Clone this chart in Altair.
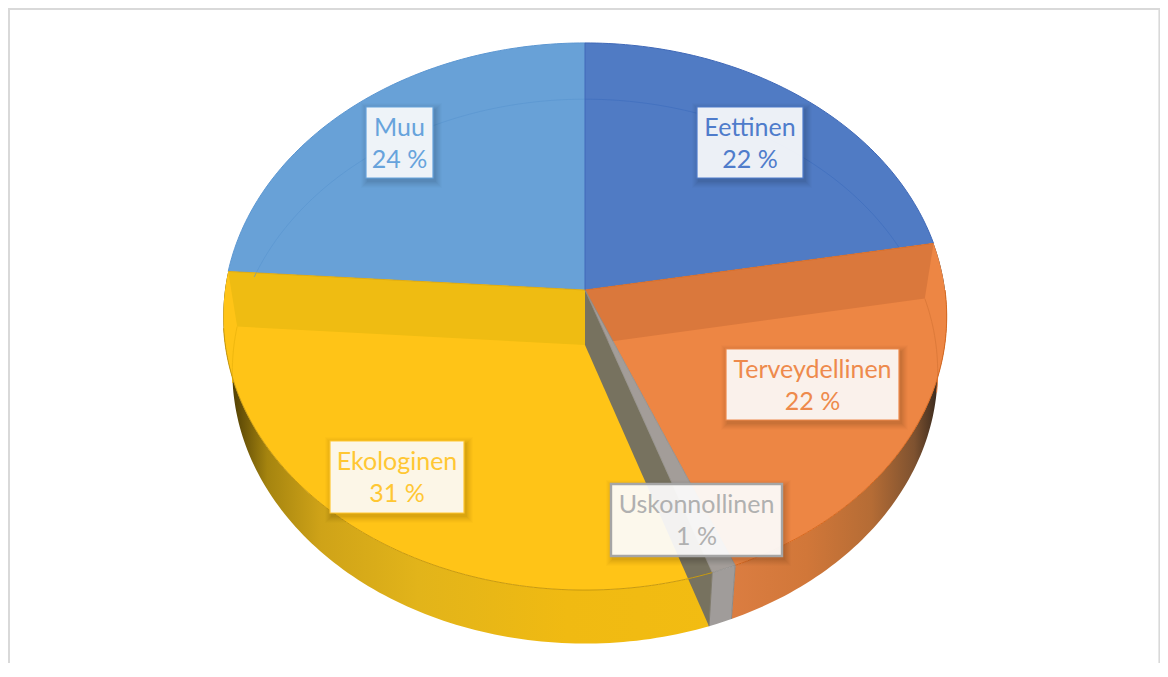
import math
import altair as alt

# ---- chart data ----
categories = ["Eettinen", "Terveydellinen", "Uskonnollinen", "Ekologinen", "Muu"]
shares = [22.2, 21.6, 1.0, 31.3, 23.9]
percent_labels = ["22 %", "22 %", "1 %", "31 %", "24 %"]
colors = ["#507BC4", "#ED8644", "#A39D99", "#FFC417", "#68A1D7"]
edge_colors = ["#4069B8", "#D9691F", "#8C8C8C", "#D9A50C", "#5C97D2"]
text_colors = ["#4F7CCB", "#EE8A4C", "#B0B0B0", "#FFC733", "#67A3DC"]

# ---- layout (page pixels) ----
W, H = 1152, 655
OX, OY = 8, 8
CX, CY, RX, RY, K = 585, 290, 360, 271, 0.0969
DROP, FX, FY = 55, 0.975, 0.995
boxes = [(697, 107, 803, 178), (726, 349, 899, 420), (611, 484, 782, 556),
         (330, 441, 464, 513), (366, 107, 433, 178)]

# slice boundaries derived from the shares
edges = [0.0]
for s in shares:
    edges.append(edges[-1] + s * 3.6)


def top(t):
    a = math.radians(t)
    d = 1 + K * math.cos(a)
    return CX + RX * math.sin(a) / d, CY - RY * math.cos(a) / d


def bot(t):
    a = math.radians(t)
    d = 1 + K * math.cos(a)
    return CX + FX * RX * math.sin(a) / d, CY + DROP - FY * RY * math.cos(a) / d


def sweep(fn, a, b):
    n = max(2, int(abs(b - a)) + 1)
    return [fn(a + (b - a) * i / (n - 1)) for i in range(n)]


PROJ = dict(type="identity")


def shape(points, closed=True, **mark):
    pts = [[float(x), float(y)] for x, y in points]
    if closed:
        geom = {"type": "Polygon", "coordinates": [pts + [pts[0]]]}
    else:
        geom = {"type": "LineString", "coordinates": pts}
        mark["filled"] = False
    feat = {"type": "Feature", "properties": {}, "geometry": geom}
    return alt.Chart(alt.Data(values=[feat])).mark_geoshape(**mark).project(**PROJ)


def grad(stops):
    return {"gradient": "linear", "x1": 0, "y1": 0, "x2": 1, "y2": 0,
            "stops": [{"offset": o, "color": c} for o, c in stops]}


def rect(x0, y0, x1, y1, **mark):
    return shape([(x0, y0), (x1, y0), (x1, y1), (x0, y1)], **mark)


def label(x, y, text, color):
    return (
        alt.Chart(alt.Data(values=[{"t": text}]))
        .mark_text(font="Lato", fontSize=25, align="center", baseline="middle", color=color)
        .encode(x=alt.value(x - OX), y=alt.value(y - OY), text="t:N")
    )


c0 = (CX, CY)
c1 = (CX, CY + DROP)
layers = []

# canvas and frame
layers.append(rect(OX, OY, OX + W, OY + H, fill="white", strokeWidth=0))
layers.append(shape([(9, OY + H), (9, 9), (1159.4, 9), (1159.4, OY + H)], closed=False,
                    stroke="#D9D9D9", strokeWidth=2))

# outer walls
e = edges
layers.append(shape(sweep(top, e[1], e[2]) + sweep(bot, e[2], e[1]), strokeWidth=0,
                    fill=grad([(0, "#DB7D41"), (0.35, "#D17739"), (0.65, "#B56C35"),
                               (0.85, "#7E5230"), (0.97, "#33261C"), (1, "#2A2018")])))
layers.append(shape(sweep(top, e[3], e[4]) + sweep(bot, e[4], e[3]), strokeWidth=0,
                    fill=grad([(0, "#3F3200"), (0.03, "#5E4A06"), (0.09, "#A5840F"),
                               (0.2, "#CFA318"), (0.4, "#E2B41A"), (0.7, "#F0BA12"),
                               (1, "#F2BC12")])))
layers.append(shape(sweep(top, e[2], e[3]) + sweep(bot, e[3], e[2]), strokeWidth=0,
                    fill="#A09C9A"))

# top faces
for i in [4, 0, 1, 3]:
    layers.append(shape([c0] + sweep(top, e[i], e[i + 1]), fill=colors[i], strokeWidth=0))

# back walls seen through the translucent faces
layers.append(shape([c0, top(e[1]), bot(e[1]), c1], fill="#DA783C", strokeWidth=0))
layers.append(shape([c0, top(e[4]), bot(e[4]), c1], fill="#EFBC12", strokeWidth=0))
layers.append(shape([c0, c1, bot(e[3]), top(e[3])], fill="#77725F", strokeWidth=0))
layers.append(shape([c0, top(e[3]), top(e[2])], fill=colors[2], stroke="#8C8A88",
                    strokeWidth=0.8))

# inner ring of the base, seen through the faces
layers.append(shape(sweep(bot, -75, 0), closed=False, stroke="#5A95D0", strokeWidth=1,
                    strokeOpacity=0.7))
layers.append(shape(sweep(bot, 0, 68), closed=False, stroke="#3F6DBE", strokeWidth=1,
                    strokeOpacity=0.7))
layers.append(shape(sweep(bot, e[1], 100), closed=False, stroke="#DD7A3A", strokeWidth=1))
layers.append(shape(sweep(bot, e[4], 262), closed=False, stroke="#F0B80F", strokeWidth=1))

# face rims
layers.append(shape(sweep(top, 90, e[2]), closed=False, stroke=edge_colors[1], strokeWidth=1))
layers.append(shape(sweep(top, e[3], 262), closed=False, stroke="#C99A0E", strokeWidth=1))
layers.append(shape(sweep(top, e[4], e[5]), closed=False, stroke=edge_colors[4], strokeWidth=1))
layers.append(shape(sweep(top, e[0], e[1]), closed=False, stroke=edge_colors[0], strokeWidth=1))

# seams
layers.append(shape([c0, top(0)], closed=False, stroke="#4069B8", strokeWidth=1))
layers.append(shape([c0, top(e[1])], closed=False, stroke=edge_colors[1], strokeWidth=0.8))
layers.append(shape([c0, top(e[4])], closed=False, stroke=edge_colors[3], strokeWidth=0.8))
layers.append(shape([top(e[3]), bot(e[3])], closed=False, stroke="#807C70", strokeWidth=1))
layers.append(shape([top(e[2]), bot(e[2])], closed=False, stroke="#8C8A88", strokeWidth=1))

# label boxes with a soft shadow
for i, (x0, y0, x1, y1) in enumerate(boxes):
    for grow, op in [(7, 0.012), (6, 0.015), (5, 0.018), (4, 0.02), (3, 0.025), (2, 0.025), (1, 0.03)]:
        layers.append(rect(x0 - grow + 2, y0 - grow + 3, x1 + grow + 2, y1 + grow + 3,
                           fill="#000000", fillOpacity=op, strokeWidth=0))
    gray = i == 2
    layers.append(rect(x0, y0, x1, y1, fill="white", fillOpacity=0.92 if gray else 0.9,
                       stroke="#A5A5A5" if gray else text_colors[i],
                       strokeWidth=2.4 if gray else 1.2))

# label text
for i, (x0, y0, x1, y1) in enumerate(boxes):
    mid = (x0 + x1) / 2
    layers.append(label(mid, y0 + 21, categories[i], text_colors[i]))
    layers.append(label(mid, y0 + 53, percent_labels[i], text_colors[i]))

chart = (
    alt.layer(*layers)
    .properties(width=W, height=H, padding=0, background="white",
                autosize=alt.AutoSizeParams(type="none"))
    .configure_view(stroke=None)
)
chart.save("out.html", embed_options={"renderer": "svg", "actions": False})
